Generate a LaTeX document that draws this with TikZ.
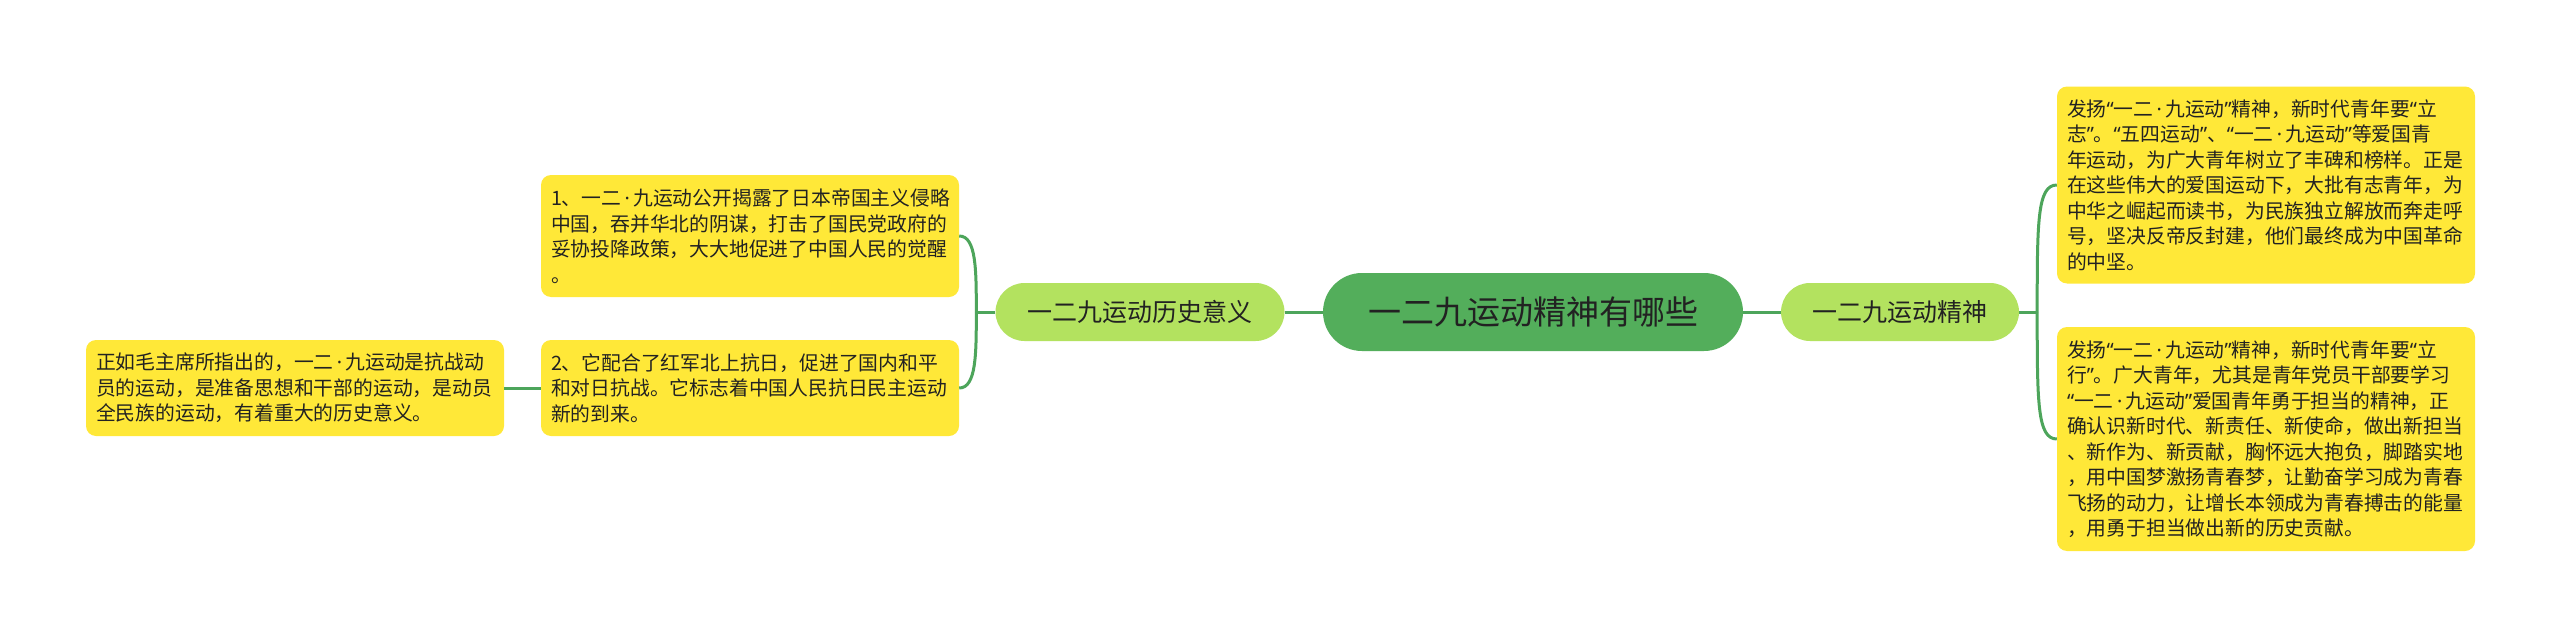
\documentclass[tikz,border=0pt]{standalone}
\usepackage{fontspec}
\newfontfamily\cjk{Noto Sans CJK SC}
\newfontfamily\latinpunct{Noto Sans}
\usepackage{xcolor}
\usetikzlibrary{positioning}
\definecolor{leafyellow}{HTML}{FFE838}
\definecolor{branchgreen}{HTML}{B3E25F}
\definecolor{topicgreen}{HTML}{53AE5B}
\definecolor{linkgreen}{HTML}{4DA55B}
\definecolor{textdark}{HTML}{222222}
\newcommand\qopen{{\latinpunct “}}
\newcommand\qclose{{\latinpunct ”}}
\newcommand\mdot{{\latinpunct\,·\,}}
\tikzset{
  leafbox/.style={fill=leafyellow, rounded corners=10pt, text width=398pt, inner xsep=10pt, inner ysep=0pt,
    align=left, text=textdark, font=\cjk\fontsize{19.8}{25.5}\selectfont},
  branchbox/.style={fill=branchgreen, rounded corners=29pt, minimum height=58pt, inner sep=0pt,
    text=textdark, font=\cjk\fontsize{25}{30}\selectfont},
  topicbox/.style={fill=topicgreen, rounded corners=39pt, minimum width=420pt, minimum height=78pt, inner sep=0pt,
    text=textdark, font=\cjk\fontsize{33}{38}\selectfont},
  linkline/.style={draw=linkgreen, line width=3pt}
}
\begin{document}
\begin{tikzpicture}[x=1pt, y=-1pt]
  \useasboundingbox [fill=white] (0,0) rectangle (2560,637);   % page frame

  \node [topicbox] (topic) at (1533,312) {一二九运动精神有哪些};                   % central topic
  \node [branchbox, minimum width=289pt] (hist) at (1140,312) {一二九运动历史意义};   % left branch
  \node [branchbox, minimum width=238pt] (spirit) at (1900,312) {一二九运动精神};     % right branch

  \node [leafbox, minimum height=122pt] (sig1) at (750,236) {%
    1、一二\mdot 九运动公开揭露了日本帝国主义侵略\\
    中国，吞并华北的阴谋，打击了国民党政府的\\
    妥协投降政策，大大地促进了中国人民的觉醒\\
    。};
  \node [leafbox, minimum height=96pt] (sig2) at (750,388) {%
    2、它配合了红军北上抗日，促进了国内和平\\
    和对日抗战。它标志着中国人民抗日民主运动\\
    新的到来。};
  \node [leafbox, minimum height=96pt] (mao) at (295,388) {%
    正如毛主席所指出的，一二\mdot 九运动是抗战动\\
    员的运动，是准备思想和干部的运动，是动员\\
    全民族的运动，有着重大的历史意义。};
  \node [leafbox, minimum height=197pt] (lizhi) at (2266,185) {%
    发扬\qopen 一二\mdot 九运动\qclose 精神，新时代青年要\qopen 立\\
    志\qclose 。\qopen 五四运动\qclose 、\qopen 一二\mdot 九运动\qclose 等爱国青\\
    年运动，为广大青年树立了丰碑和榜样。正是\\
    在这些伟大的爱国运动下，大批有志青年，为\\
    中华之崛起而读书，为民族独立解放而奔走呼\\
    号，坚决反帝反封建，他们最终成为中国革命\\
    的中坚。};
  \node [leafbox, minimum height=224pt] (lixing) at (2266,439) {%
    发扬\qopen 一二\mdot 九运动\qclose 精神，新时代青年要\qopen 立\\
    行\qclose 。广大青年，尤其是青年党员干部要学习\\
    \qopen 一二\mdot 九运动\qclose 爱国青年勇于担当的精神，正\\
    确认识新时代、新责任、新使命，做出新担当\\
    、新作为、新贡献，胸怀远大抱负，脚踏实地\\
    ，用中国梦激扬青春梦，让勤奋学习成为青春\\
    飞扬的动力，让增长本领成为青春搏击的能量\\
    ，用勇于担当做出新的历史贡献。};

  \coordinate [left=19pt of hist.west] (hj);      % left fork
  \coordinate [right=18pt of spirit.east] (sj);   % right fork

  \draw [linkline] (hist.east) -- (topic.west);
  \draw [linkline] (topic.east) -- (spirit.west);
  \draw [linkline] (hist.west) -- (hj);
  \draw [linkline] (sig1.east) .. controls (sig1.east -| hj) and ([yshift=42pt]hj) .. (hj);
  \draw [linkline] (sig2.east) .. controls (sig2.east -| hj) and ([yshift=-42pt]hj) .. (hj);
  \draw [linkline] (sig2.west) -- (mao.east);
  \draw [linkline] (spirit.east) -- (sj);
  \draw [linkline] (lizhi.west) .. controls (lizhi.west -| sj) and ([yshift=90pt]sj) .. (sj);
  \draw [linkline] (lixing.west) .. controls (lixing.west -| sj) and ([yshift=-90pt]sj) .. (sj);
\end{tikzpicture}
\end{document}
